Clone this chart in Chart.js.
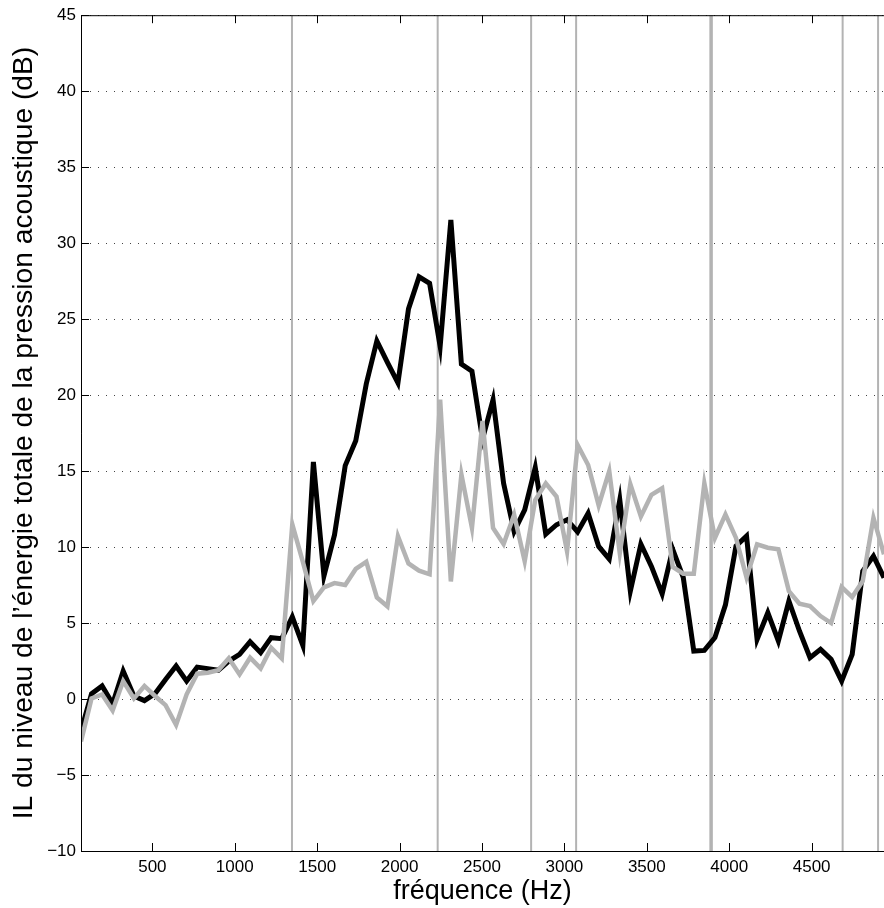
<!DOCTYPE html>
<html>
<head>
<meta charset="utf-8">
<script src="https://cdn.jsdelivr.net/npm/chart.js@4.4.1/dist/chart.umd.min.js"></script>
<style>
  html, body { margin: 0; padding: 0; background: #fff; }
</style>
</head>
<body>
<canvas id="chart1" width="884" height="908"></canvas>
<script>
// fréquences (Hz) des points de mesure
const freqs = [67, 131, 195, 259, 323, 388, 452, 516, 580, 644,
  708, 772, 836, 900, 964, 1029, 1093, 1157, 1221, 1285,
  1349, 1413, 1477, 1541, 1605, 1670, 1734, 1798, 1862, 1926,
  1990, 2054, 2118, 2182, 2246, 2311, 2375, 2439, 2503, 2567,
  2631, 2695, 2759, 2823, 2887, 2952, 3016, 3080, 3144, 3208,
  3272, 3336, 3400, 3464, 3528, 3593, 3657, 3721, 3785, 3849,
  3913, 3977, 4041, 4105, 4169, 4234, 4298, 4362, 4426, 4490,
  4554, 4618, 4682, 4746, 4810, 4875, 4939];

// IL courbe noire (dB)
const ilNoir = [-2.1, 0.35, 0.86, -0.31, 1.84, 0.2, -0.1, 0.35, 1.29, 2.17,
  1.18, 2.1, 2.0, 1.89, 2.5, 2.94, 3.77, 3.05, 4.04, 3.97,
  5.4, 3.53, 15.6, 8.1, 10.8, 15.36, 17.0, 20.75, 23.56, 22.16,
  20.8, 25.67, 27.78, 27.36, 23.2, 31.53, 22.04, 21.57, 17.1, 19.7,
  14.2, 11.03, 12.45, 15.23, 10.85, 11.47, 11.8, 11.0, 12.23, 10.04,
  9.21, 13.1, 7.1, 10.2, 8.73, 6.92, 9.85, 8.0, 3.16, 3.2,
  4.04, 6.2, 10.07, 10.72, 3.93, 5.68, 3.82, 6.45, 4.48, 2.72,
  3.27, 2.61, 1.18, 2.94, 8.42, 9.41, 7.98];

// IL courbe grise (dB)
const ilGris = [-2.8, 0.04, 0.3, -0.75, 1.18, 0.04, 0.86, 0.2, -0.4, -1.7,
  0.31, 1.67, 1.73, 1.89, 2.68, 1.62, 2.72, 2.02, 3.38, 2.68,
  11.5, 9.03, 6.45, 7.35, 7.63, 7.51, 8.56, 9.03, 6.69, 6.1,
  10.72, 8.92, 8.45, 8.21, 19.7, 7.74, 14.78, 11.26, 18.3, 11.25,
  10.2, 12.12, 9.06, 13.1, 14.2, 13.33, 9.72, 16.72, 15.4, 12.74,
  15.0, 9.6, 14.14, 12.01, 13.44, 13.87, 8.7, 8.25, 8.25, 14.2,
  10.6, 12.15, 10.6, 8.0, 10.18, 9.96, 9.85, 7.1, 6.27, 6.12,
  5.46, 5.0, 7.37, 6.71, 7.76, 11.93, 9.52];

// lignes verticales (Hz)
const vlines = [1347, 2231, 2798, 3071, 3890, 4688, 4903];

const xTicks = [500, 1000, 1500, 2000, 2500, 3000, 3500, 4000, 4500];
const yTicks = [-10, -5, 0, 5, 10, 15, 20, 25, 30, 35, 40, 45];

const police = "'Liberation Sans', Arial, Helvetica, sans-serif";
const gris = '#b3b3b3';

const toXY = (ys) => freqs.map((f, i) => ({x: f, y: ys[i]}));

const vlineSets = vlines.map((f, i) => ({
  data: [{x: f, y: yTicks[0]}, {x: f, y: yTicks[yTicks.length - 1]}],
  borderColor: gris,
  borderWidth: i === 4 ? 3.5 : 2,
  pointRadius: 0,
  clip: 0,
  order: 3
}));

// cadre + graduations vers l'intérieur (style matlab)
const cadre = {
  id: 'cadre',
  afterDatasetsDraw(chart) {
    const {ctx, chartArea: a, scales: {x, y}} = chart;
    ctx.save();
    ctx.strokeStyle = '#000';
    ctx.lineWidth = 1;
    ctx.beginPath();
    ctx.moveTo(a.left, a.top + 0.5);
    ctx.lineTo(a.right, a.top + 0.5);
    ctx.moveTo(a.left + 0.5, a.top);
    ctx.lineTo(a.left + 0.5, a.bottom + 1);
    ctx.moveTo(a.left, a.bottom + 0.5);
    ctx.lineTo(a.right, a.bottom + 0.5);
    xTicks.forEach(v => {
      const px = Math.round(x.getPixelForValue(v)) + 0.5;
      ctx.moveTo(px, a.bottom);
      ctx.lineTo(px, a.bottom - 8);
      ctx.moveTo(px, a.top);
      ctx.lineTo(px, a.top + 8);
    });
    yTicks.forEach(v => {
      const py = Math.round(y.getPixelForValue(v)) + 0.5;
      ctx.moveTo(a.left, py);
      ctx.lineTo(a.left + 8, py);
    });
    ctx.stroke();
    ctx.restore();
  }
};

const ctx1 = document.getElementById('chart1');
const chart1 = new Chart(ctx1, {
  type: 'line',
  data: {
    datasets: [
      {
        data: toXY(ilGris),
        borderColor: gris,
        borderWidth: 4.5,
        borderJoinStyle: 'miter',
        pointRadius: 0,
        tension: 0,
        clip: 0,
        order: 1
      },
      {
        data: toXY(ilNoir),
        borderColor: '#000',
        borderWidth: 5,
        borderJoinStyle: 'miter',
        pointRadius: 0,
        tension: 0,
        clip: 0,
        order: 2
      },
      ...vlineSets
    ]
  },
  options: {
    responsive: false,
    animation: false,
    devicePixelRatio: 1,
    layout: { padding: { left: 0, right: 0, top: 13, bottom: 0 } },
    plugins: { legend: { display: false }, tooltip: { enabled: false } },
    scales: {
      x: {
        type: 'linear',
        min: freqs[0],
        max: freqs[freqs.length - 1],
        afterBuildTicks: (s) => { s.ticks = xTicks.map(v => ({value: v})); },
        afterFit: (s) => { s.height = 57; },
        grid: { display: false },
        border: { display: true, color: '#000', width: 1 },
        ticks: {
          color: '#000',
          padding: -2,
          maxRotation: 0,
          font: { family: police, size: 17 },
          callback: (v) => String(v)
        },
        title: {
          display: true,
          text: 'fréquence (Hz)',
          color: '#000',
          font: { family: police, size: 27 },
          padding: { top: 7.5, bottom: 0 }
        }
      },
      y: {
        min: yTicks[0],
        max: yTicks[yTicks.length - 1],
        afterBuildTicks: (s) => { s.ticks = yTicks.map(v => ({value: v})); },
        afterFit: (s) => { s.width = 81; },
        grid: { color: '#444', lineWidth: 1, drawTicks: false },
        border: { display: true, color: '#000', width: 1, dash: [1, 7] },
        ticks: {
          color: '#000',
          padding: 5,
          font: { family: police, size: 17 },
          callback: (v) => (v < 0 ? '\u2212' + Math.abs(v) : String(v))
        },
        title: {
          display: true,
          text: 'IL du niveau de l\u2019énergie totale de la pression acoustique (dB)',
          color: '#000',
          font: { family: police, size: 28.2 },
          padding: { top: 7.5, bottom: 0 }
        }
      }
    }
  },
  plugins: [cadre]
});
</script>
</body>
</html>
